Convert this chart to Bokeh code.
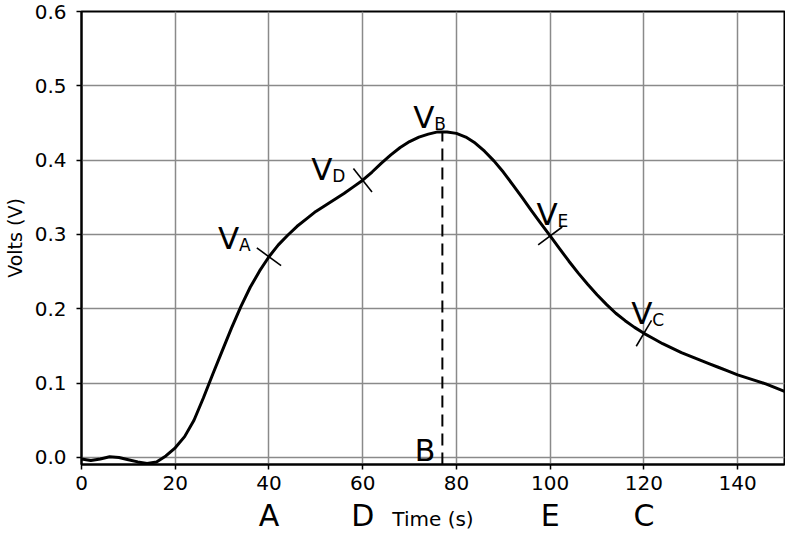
import numpy as np
from bokeh.plotting import figure
from bokeh.layouts import column
from bokeh.models import Range1d, FixedTicker, PrintfTickFormatter
from bokeh.core.properties import value
from bokeh.embed import file_html
from bokeh.resources import INLINE

# ---- data ----
time_s = [0, 2, 4, 6, 8, 10, 12, 14, 16, 18, 20, 22, 24, 26, 28, 30, 32, 34, 36, 38,
          40, 42, 44, 46, 48, 50, 52, 54, 56, 58, 60, 62, 64, 66, 68, 70, 72, 74, 76, 78,
          80, 82, 84, 86, 88, 90, 92, 94, 96, 98, 100, 102, 104, 106, 108, 110, 112, 114,
          116, 118, 120, 122, 124, 126, 128, 130, 132, 134, 136, 138, 140, 142, 144, 146,
          148, 150]
volts = [-0.002, -0.004, -0.002, 0.001, 0.000, -0.003, -0.006, -0.008, -0.006, 0.002,
         0.013, 0.028, 0.050, 0.080, 0.112, 0.143, 0.174, 0.203, 0.229, 0.251,
         0.270, 0.286, 0.299, 0.311, 0.321, 0.331, 0.339, 0.347, 0.355, 0.364,
         0.373, 0.384, 0.396, 0.407, 0.417, 0.425, 0.431, 0.435, 0.438, 0.438,
         0.436, 0.431, 0.423, 0.412, 0.399, 0.384, 0.367, 0.350, 0.332, 0.315,
         0.298, 0.281, 0.264, 0.248, 0.233, 0.219, 0.206, 0.194, 0.184, 0.175,
         0.167, 0.160, 0.153, 0.147, 0.141, 0.136, 0.131, 0.126, 0.121, 0.116,
         0.111, 0.107, 0.103, 0.099, 0.094, 0.089]

x_ticks = [0, 20, 40, 60, 80, 100, 120, 140]
y_ticks = [0.0, 0.1, 0.2, 0.3, 0.4, 0.5, 0.6]

marker_names = ["A", "D", "E", "C"]
marker_times = [40, 60, 100, 120]
peak_name = "B"
peak_time = 77

v_subscripts = ["A", "D", "B", "E", "C"]
v_label_x = [29.1, 49.0, 70.8, 97.1, 117.3]
v_label_y = [0.295, 0.388, 0.458, 0.328, 0.195]

x_label = "Time (s)"
x_label_at = 75
y_label = "Volts (V)"

# ---- layout ----
W = 785
H1, H2 = 497, 36
MB_L, MB_R, MB_T, MB_B = 78, 1, 11, 33
X0, X1 = 0, 150
Y0, Y1 = -0.0095, 0.6
FONT = "DejaVu Sans"

xr = Range1d(X0, X1)
p = figure(width=W, height=H1, x_range=xr, y_range=Range1d(Y0, Y1),
           output_backend="svg", toolbar_location=None, title=None,
           min_border_left=MB_L, min_border_right=MB_R,
           min_border_top=MB_T, min_border_bottom=MB_B)

p.outline_line_color = "black"
p.outline_line_width = 2
p.outline_line_alpha = 1.0
p.background_fill_color = "white"

p.xaxis.ticker = FixedTicker(ticks=x_ticks)
p.yaxis.ticker = FixedTicker(ticks=y_ticks)
p.yaxis.formatter = PrintfTickFormatter(format="%.1f")
for ax in (p.xaxis, p.yaxis):
    ax.axis_line_color = "black"
    ax.axis_line_width = 2
    ax.major_tick_line_color = "black"
    ax.major_tick_line_width = 1.5
    ax.major_tick_out = 5
    ax.major_tick_in = 0
    ax.minor_tick_line_color = None
    ax.major_label_text_font = FONT
    ax.major_label_text_font_size = "20px"
    ax.major_label_text_color = "black"
p.yaxis.major_label_standoff = 10
p.xaxis.major_label_standoff = 6
p.yaxis.axis_label = y_label
p.yaxis.axis_label_text_font = FONT
p.yaxis.axis_label_text_font_size = "19px"
p.yaxis.axis_label_text_font_style = "normal"
p.yaxis.axis_label_text_color = "black"
p.yaxis.axis_label_standoff = 6

p.grid.grid_line_color = "#8a8a8a"
p.grid.grid_line_width = 1.5
p.grid.grid_line_alpha = 1.0

# curve
t = np.array(time_s, dtype=float)
v = np.array(volts, dtype=float)
p.line(t, v, line_color="black", line_width=3)

# dashed line at the peak
peak_v = float(np.interp(peak_time, t, v))
p.segment(x0=[peak_time], y0=[Y0], x1=[peak_time], y1=[peak_v],
          line_color="black", line_width=2, line_dash="12 7")

# cross ticks, perpendicular to the curve on screen
ppx = (W - MB_L - MB_R) / (X1 - X0)
ppy = (H1 - MB_T - MB_B) / (Y1 - Y0)
dv = np.gradient(v, t)
mv = np.interp(marker_times, t, v)
mslope = np.interp(marker_times, t, dv) * ppy / ppx
angles = np.arctan(mslope) + np.pi / 2
p.scatter(x=marker_times, y=mv, marker="dash", size=30, angle=angles,
          line_color="black", line_width=1.6, fill_color=None)

# V labels with subscripts
p.text(x=v_label_x, y=v_label_y, text=["V"] * len(v_label_x),
       text_font=value(FONT), text_font_size="31px", text_color="black",
       text_align="left", text_baseline="alphabetic")
p.text(x=v_label_x, y=v_label_y, text=v_subscripts, x_offset=21, y_offset=7,
       text_font=value(FONT), text_font_size="17px", text_color="black",
       text_align="left", text_baseline="alphabetic")

# "B" label next to the dashed line
p.text(x=[peak_time], y=[0.0093], text=[peak_name], x_offset=-7,
       text_font=value(FONT), text_font_size="30px", text_color="black",
       text_align="right", text_baseline="alphabetic")

# strip below the axis: point letters and the axis title
s = figure(width=W, height=H2, x_range=xr, y_range=Range1d(0, 1),
           x_axis_type=None, y_axis_type=None, title=None,
           output_backend="svg", toolbar_location=None,
           min_border_left=MB_L, min_border_right=MB_R,
           min_border_top=0, min_border_bottom=0)
s.min_border = 0
s.min_border_left = MB_L
s.min_border_right = MB_R
s.outline_line_color = None
s.grid.visible = False
s.text(x=marker_times, y=[0.5] * len(marker_times), text=marker_names,
       text_font=value(FONT), text_font_size="30px", text_color="black",
       text_align="center", text_baseline="middle")
s.text(x=[x_label_at], y=[0.5], text=[x_label], y_offset=3,
       text_font=value(FONT), text_font_size="20px", text_color="black",
       text_align="center", text_baseline="middle")

layout = column(p, s, spacing=0)
open("out.html", "w").write(file_html(layout, INLINE))
